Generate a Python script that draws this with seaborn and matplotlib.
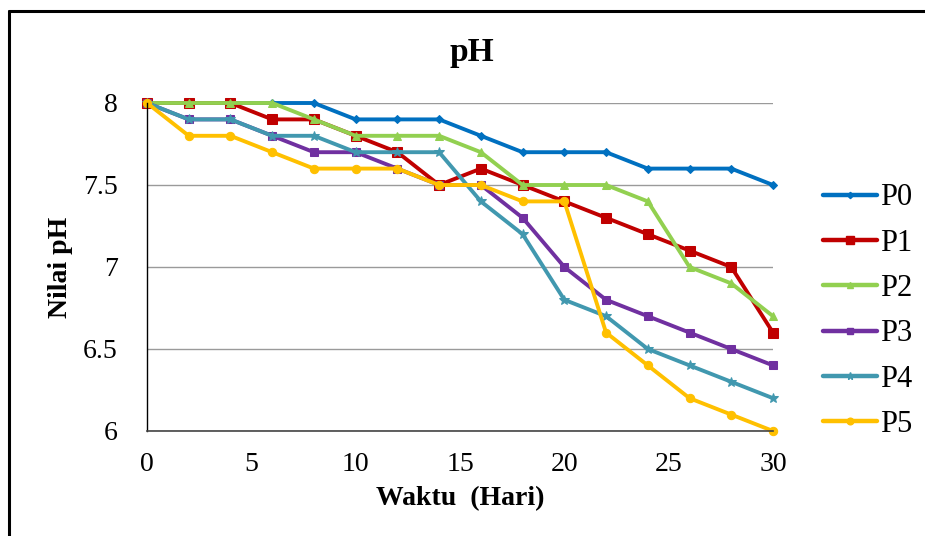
import pandas as pd
import matplotlib
matplotlib.use('Agg')
import matplotlib.pyplot as plt
import seaborn as sns
from matplotlib.lines import Line2D
from matplotlib.ticker import FuncFormatter

# data
days = [0, 2, 4, 6, 8, 10, 12, 14, 16, 18, 20, 22, 24, 26, 28, 30]
p0 = [8, 8, 8, 8, 8, 7.9, 7.9, 7.9, 7.8, 7.7, 7.7, 7.7, 7.6, 7.6, 7.6, 7.5]
p1 = [8, 8, 8, 7.9, 7.9, 7.8, 7.7, 7.5, 7.6, 7.5, 7.4, 7.3, 7.2, 7.1, 7.0, 6.6]
p2 = [8, 8, 8, 8, 7.9, 7.8, 7.8, 7.8, 7.7, 7.5, 7.5, 7.5, 7.4, 7.0, 6.9, 6.7]
p3 = [8, 7.9, 7.9, 7.8, 7.7, 7.7, 7.6, 7.5, 7.5, 7.3, 7.0, 6.8, 6.7, 6.6, 6.5, 6.4]
p4 = [8, 7.9, 7.9, 7.8, 7.8, 7.7, 7.7, 7.7, 7.4, 7.2, 6.8, 6.7, 6.5, 6.4, 6.3, 6.2]
p5 = [8, 7.8, 7.8, 7.7, 7.6, 7.6, 7.6, 7.5, 7.5, 7.4, 7.4, 6.6, 6.4, 6.2, 6.1, 6.0]

names = ['P0', 'P1', 'P2', 'P3', 'P4', 'P5']
colors = ['#0070C0', '#C00000', '#92D050', '#7030A0', '#4198AF', '#FFC000']
markers = ['D', 's', '^', 's', '*', 'o']
msizes = [4, 7, 6, 6, 7, 6]

df = pd.DataFrame({'Hari': days, 'P0': p0, 'P1': p1, 'P2': p2,
                   'P3': p3, 'P4': p4, 'P5': p5})
long = df.melt(id_vars='Hari', var_name='Perlakuan', value_name='pH')

sns.set_style('white')
plt.rcParams['font.family'] = ['Liberation Serif', 'DejaVu Serif']
plt.rcParams['text.color'] = 'black'
plt.rcParams['axes.labelcolor'] = 'black'
plt.rcParams['xtick.color'] = 'black'
plt.rcParams['ytick.color'] = 'black'

fig = plt.figure(figsize=(9.25, 5.36), dpi=100)
ax = fig.add_axes([147 / 925, 1 - 431 / 536, (773 - 147) / 925, (431 - 103) / 536])

for name, c, m, ms in zip(names, colors, markers, msizes):
    sub = long[long['Perlakuan'] == name]
    sns.lineplot(data=sub, x='Hari', y='pH', ax=ax, color=c, lw=2.8,
                 marker=m, markersize=ms, markeredgecolor=c, clip_on=False)

ax.set_xlim(0, 30)
ax.set_ylim(6, 8)
ax.set_xticks([0, 5, 10, 15, 20, 25, 30])
ax.set_yticks([6, 6.5, 7, 7.5, 8])
ax.yaxis.set_major_formatter(FuncFormatter(lambda v, p: f'{v:g}'))
ax.grid(axis='y', color='#9a9a9a', lw=1)
ax.set_axisbelow(True)
for s in ['top', 'right']:
    ax.spines[s].set_visible(False)
ax.spines['left'].set_color('black')
ax.spines['bottom'].set_color('#444444')
ax.spines['left'].set_linewidth(1)
ax.spines['bottom'].set_linewidth(1.2)
ax.tick_params(axis='y', length=0, pad=21, labelsize=20)
ax.tick_params(axis='x', length=0, pad=15, labelsize=20)

ax.set_xlabel('Waktu  (Hari)', fontsize=20, fontweight='bold', labelpad=7)
ax.set_ylabel('Nilai pH', fontsize=20, fontweight='bold', labelpad=7)
fig.text(472 / 925, 1 - 53 / 536, 'pH', ha='center', va='center',
         fontsize=24, fontweight='bold')

handles = [Line2D([], [], color=c, lw=3.2, marker=m, markersize=ms * 0.8,
                  markeredgecolor=c) for c, m, ms in zip(colors, markers, msizes)]
fig.legend(handles, names, loc='upper left', bbox_to_anchor=(811 / 925, 1 - 171 / 536),
           frameon=False, fontsize=22, handlelength=1.75, handletextpad=0.1,
           labelspacing=0.535, borderaxespad=0)

# outer frame (only top and left edges visible)
fig.add_artist(Line2D([9 / 925, 9 / 925], [0, 1 - 11 / 536], color='black', lw=2.2))
fig.add_artist(Line2D([9 / 925, 1], [1 - 11 / 536, 1 - 11 / 536], color='black', lw=2.2))

fig.savefig('out.png', dpi=100)
